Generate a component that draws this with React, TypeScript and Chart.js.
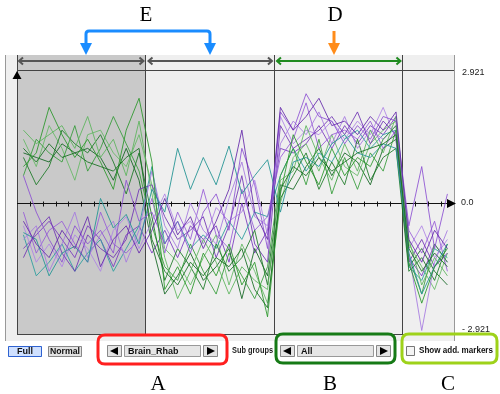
import { useEffect, useRef } from "react";
import { Chart, registerables } from "chart.js";

Chart.register(...registerables);

// sample positions (one per array sample)
const sampleIndex = [0, 1, 2, 3, 4, 5, 6, 7, 8, 9, 10, 11, 12, 13, 14, 15, 16, 17, 18, 19, 20, 21, 22, 23, 24, 25, 26, 27, 28, 29, 30, 31, 32, 33];
// group borders (between samples)
const groupBorders = [9.5, 19.5, 29.5];
const yLimit = 2.921;
const yTickLabels = ["2.921", "0.0", "- 2.921"];
const groupSelection = "Brain_Rhab";
const subGroupSelection = "All";

// green profiles
const g1 = [1.2, 0.9, 1.3, 1.0, 1.1, 0.9, 0.8, 0.7, 1.0, 1.2, -0.8, -1.5, -1.8, -1.3, -1.6, -1.2, -1.4, -1.0, -1.9, -2.3, 0.3, 0.8, 0.6, 1.0, 0.7, 0.9, 1.1, 1.2, 1.3, 1.5, -1.0, -1.5, -1.1, -1.4];
const g2 = [0.8, 1.1, 2.1, 1.5, 1.0, 1.4, 0.9, 0.3, 1.6, 2.3, 0.9, -1.9, -1.4, -2.0, -1.1, -1.6, -0.9, -1.8, -1.3, -2.5, 0.2, 1.5, 0.9, 0.4, 1.2, 0.6, 1.0, 0.8, 1.4, 1.7, -1.3, -2.2, -1.4, -1.0];
const g3 = [1.6, 1.3, 1.5, 1.7, 1.2, 1.9, 1.0, 1.4, 0.6, 1.8, 0.2, -1.2, -2.1, -1.5, -0.8, -1.3, -2.0, -1.4, -1.7, -1.9, 0.5, 0.7, 1.7, 1.0, 0.5, 1.3, 0.7, 1.6, 1.1, 1.9, -0.8, -1.8, -1.2, -1.6];
const g4 = [1.0, 0.4, 0.8, 1.6, 1.3, 1.1, 1.5, 0.9, 0.2, 1.1, -0.3, -1.7, -1.0, -1.4, -1.9, -0.9, -1.5, -1.2, -0.6, -1.8, 0.1, 0.6, 1.1, 0.3, 0.9, 0.4, 1.4, 0.5, 1.0, 1.2, -1.5, -1.2, -1.7, -0.9];
const g5 = [0.6, 1.4, 1.1, 0.9, 1.7, 0.7, 1.2, 1.9, 1.3, 0.7, -0.5, -1.4, -1.7, -0.9, -1.5, -2.0, -1.1, -1.6, -2.1, -1.4, 0.6, 1.2, 0.4, 1.4, 0.2, 1.0, 0.3, 1.1, 0.7, 1.6, -1.2, -2.0, -0.9, -1.3];
const g6 = [1.4, 0.8, 1.7, 1.2, 0.5, 1.5, 1.6, 1.1, 0.8, 1.5, 0.4, -1.0, -1.3, -1.8, -1.2, -0.7, -1.8, -0.9, -1.5, -2.2, 0.0, 1.0, 1.3, 0.7, 1.5, 0.8, 0.6, 1.3, 1.6, 1.8, -0.9, -1.4, -1.9, -1.1];
const g7 = [1.1, 1.0, 0.9, 1.3, 1.1, 1.2, 1.0, 0.5, 1.2, 0.5, -0.9, -2.0, -1.6, -1.1, -1.7, -1.4, -1.0, -2.1, -1.0, -1.6, 0.4, 0.3, 0.8, 1.2, 0.6, 1.1, 0.9, 0.4, 1.2, 1.4, -1.4, -1.0, -1.5, -1.8];
// purple profiles
const p1 = [-0.4, -0.9, -1.2, -0.6, -1.0, -0.3, -1.4, -0.8, -0.5, -1.1, -0.6, 0.1, -0.7, -0.3, -1.0, -0.4, 0.3, 1.6, -0.2, -0.8, 2.1, 1.6, 1.9, 2.3, 1.7, 1.8, 1.5, 1.9, 1.6, 2.0, -0.8, -1.3, -0.6, -1.0];
const p2 = [0.6, -0.2, -0.8, -1.3, -0.5, -0.9, -0.6, -1.1, 0.5, -0.4, -0.2, -0.9, -0.4, -1.1, -0.2, 0.2, -0.6, 1.2, 0.4, -1.0, 2.0, 1.6, 2.4, 1.9, 1.8, 1.3, 1.7, 1.4, 1.9, 1.8, -0.5, 0.8, -1.0, 0.2];
const p3 = [-0.8, -0.5, -1.5, -0.9, -0.2, -1.2, -0.7, -0.4, -1.3, -0.6, 0.7, -0.5, -1.0, 0.0, -0.6, -0.9, 0.1, 0.9, -0.3, -0.5, 1.3, 1.8, 1.5, 2.0, 1.3, 1.9, 1.2, 1.6, 1.4, 1.7, -1.1, -2.8, -1.3, -0.6];
const p4 = [-1.2, -0.6, -0.3, -1.1, -1.5, -0.7, -1.0, -1.2, -0.8, 0.3, 0.4, -0.3, -0.8, -0.6, -0.3, -1.2, -0.5, 0.6, -0.9, -1.3, 1.7, 1.2, 1.4, 1.6, 1.9, 1.5, 2.0, 1.3, 1.8, 1.5, -1.3, -0.8, -1.4, -1.1];
const p5 = [-0.2, -1.1, -0.6, -0.4, -0.9, -1.3, -0.2, -0.9, -1.1, -0.8, 0.1, -1.1, -0.2, -0.8, 0.3, -0.7, -1.0, 0.3, -0.6, -0.3, 1.0, 1.4, 2.2, 1.2, 1.5, 1.6, 1.4, 1.8, 1.2, 1.6, -0.6, -1.1, -0.4, -1.5];
const p6 = [-0.5, -1.3, -0.9, -1.4, -0.7, -1.0, -1.5, -0.6, -0.3, -1.0, -0.4, 0.2, -0.6, -0.4, -0.9, -0.1, -0.4, -0.2, 0.5, -0.7, 1.9, 1.3, 1.6, 1.5, 1.8, 1.4, 1.8, 1.5, 2.1, 1.4, -1.0, -0.5, -1.2, -0.8];
const p7 = [-1.0, -0.7, -0.4, -0.8, -1.2, -0.5, -0.8, -1.4, -0.7, -0.5, -1.1, -0.6, -1.2, -0.5, -0.8, -0.5, -1.3, 0.0, -1.1, -0.6, 1.2, 1.1, 1.3, 1.7, 1.2, 1.7, 1.3, 1.7, 1.5, 1.9, -1.2, -1.6, -0.9, -1.3];
// teal profiles
const t1 = [-0.65, -0.8, -1.6, -1.1, -0.95, -1.3, 0.1, -0.55, -0.25, -0.9, 0.3, -0.2, 1.2, 0.3, 1.0, 0.4, 1.25, 0.2, 0.6, 0.95, -0.2, 0.9, 1.0, 0.8, 1.3, 1.5, 1.1, 1.0, 1.3, 1.2, -1.1, -2.0, -1.4, -0.9];
const t2 = [-0.7, -1.6, -1.3, -0.9, -1.5, -1.1, -0.8, -1.5, -1.0, -0.5, 0.8, -0.9, -0.4, -1.0, -0.7, -1.0, -0.4, -0.8, -0.2, -0.3, 0.6, 1.2, 0.7, 1.1, 0.9, 1.4, 1.6, 1.2, 1.5, 1.6, -1.4, -1.7, -1.0, -1.2];

const profiles = [
  { values: g1, color: "rgba(20,110,30,0.85)" },
  { values: p1, color: "rgba(100,40,170,0.85)" },
  { values: g2, color: "rgba(40,150,40,0.85)" },
  { values: p2, color: "rgba(140,80,210,0.85)" },
  { values: t1, color: "rgba(40,150,150,0.9)" },
  { values: g3, color: "rgba(90,180,90,0.85)" },
  { values: p3, color: "rgba(165,120,225,0.85)" },
  { values: g4, color: "rgba(25,120,35,0.85)" },
  { values: p4, color: "rgba(110,50,180,0.85)" },
  { values: g5, color: "rgba(50,155,55,0.85)" },
  { values: p5, color: "rgba(150,90,215,0.85)" },
  { values: t2, color: "rgba(50,160,160,0.9)" },
  { values: g6, color: "rgba(100,185,100,0.85)" },
  { values: p6, color: "rgba(175,130,230,0.85)" },
  { values: g7, color: "rgba(15,100,30,0.85)" },
  { values: p7, color: "rgba(120,55,190,0.85)" },
];

function doubleArrow(ctx: CanvasRenderingContext2D, x1: number, x2: number, y: number, color: string) {
  ctx.save();
  ctx.strokeStyle = color;
  ctx.lineWidth = 2;
  ctx.beginPath();
  ctx.moveTo(x1 + 1, y);
  ctx.lineTo(x2 - 1, y);
  ctx.moveTo(x1 + 5, y - 3.5);
  ctx.lineTo(x1 + 1, y);
  ctx.lineTo(x1 + 5, y + 3.5);
  ctx.moveTo(x2 - 5, y - 3.5);
  ctx.lineTo(x2 - 1, y);
  ctx.lineTo(x2 - 5, y + 3.5);
  ctx.stroke();
  ctx.restore();
}

function roundRect(ctx: CanvasRenderingContext2D, x: number, y: number, w: number, h: number, r: number) {
  ctx.beginPath();
  ctx.moveTo(x + r, y);
  ctx.lineTo(x + w - r, y);
  ctx.quadraticCurveTo(x + w, y, x + w, y + r);
  ctx.lineTo(x + w, y + h - r);
  ctx.quadraticCurveTo(x + w, y + h, x + w - r, y + h);
  ctx.lineTo(x + r, y + h);
  ctx.quadraticCurveTo(x, y + h, x, y + h - r);
  ctx.lineTo(x, y + r);
  ctx.quadraticCurveTo(x, y, x + r, y);
  ctx.closePath();
}

function button(ctx: CanvasRenderingContext2D, x: number, y: number, w: number, h: number, border: string, fill: string) {
  ctx.fillStyle = fill;
  ctx.fillRect(x, y, w, h);
  ctx.strokeStyle = border;
  ctx.lineWidth = 1;
  ctx.strokeRect(x + 0.5, y + 0.5, w - 1, h - 1);
}

function triangle(ctx: CanvasRenderingContext2D, pts: number[][], color: string) {
  ctx.fillStyle = color;
  ctx.beginPath();
  ctx.moveTo(pts[0][0], pts[0][1]);
  for (let i = 1; i < pts.length; i++) ctx.lineTo(pts[i][0], pts[i][1]);
  ctx.closePath();
  ctx.fill();
}

function spinner(ctx: CanvasRenderingContext2D, x: number, y: number, w: number, label: string) {
  // left arrow button
  button(ctx, x, y, 15, 12, "#888", "#e4e4e4");
  triangle(ctx, [[x + 3, y + 6], [x + 11, y + 2], [x + 11, y + 10]], "#000");
  // field
  const fx = x + 17;
  const fw = w - 34;
  button(ctx, fx, y, fw, 12, "#999", "#e6e6e6");
  ctx.fillStyle = "#111";
  ctx.font = "bold 9px 'Liberation Sans', Arial, sans-serif";
  ctx.textAlign = "left";
  ctx.textBaseline = "middle";
  ctx.fillText(label, fx + 4, y + 6.5);
  // right arrow button
  const rx = x + w - 15;
  button(ctx, rx, y, 15, 12, "#888", "#e4e4e4");
  triangle(ctx, [[rx + 12, y + 6], [rx + 4, y + 2], [rx + 4, y + 10]], "#000");
}

const backgroundPlugin = {
  id: "panelBackground",
  beforeDraw(chart: any) {
    const ctx: CanvasRenderingContext2D = chart.ctx;
    const xs = chart.scales.x;
    const ys = chart.scales.y;
    const left = chart.chartArea.left;
    const right = chart.chartArea.right;
    const top = ys.getPixelForValue(yLimit);
    const bottom = chart.chartArea.bottom - 2;
    const b0 = xs.getPixelForValue(groupBorders[0]);
    ctx.save();
    ctx.fillStyle = "#ffffff";
    ctx.fillRect(0, 0, chart.width, chart.height);
    ctx.fillStyle = "#efefef";
    ctx.fillRect(5, 55, right - 5, 286);
    ctx.fillStyle = "#c9c9c9";
    ctx.fillRect(left, 55, b0 - left, bottom - 55);
    // frame lines
    ctx.strokeStyle = "#444";
    ctx.lineWidth = 1;
    ctx.beginPath();
    ctx.moveTo(left + 0.5, 55);
    ctx.lineTo(left + 0.5, bottom);
    groupBorders.forEach((g) => {
      const px = Math.round(xs.getPixelForValue(g)) + 0.5;
      ctx.moveTo(px, 55);
      ctx.lineTo(px, bottom);
    });
    ctx.moveTo(left, Math.round(top) + 0.5);
    ctx.lineTo(right, Math.round(top) + 0.5);
    ctx.moveTo(left, bottom + 0.5);
    ctx.lineTo(right, bottom + 0.5);
    ctx.stroke();
    ctx.strokeStyle = "#999";
    ctx.beginPath();
    ctx.moveTo(right - 0.5, 55);
    ctx.lineTo(right - 0.5, 341);
    ctx.moveTo(5.5, 55);
    ctx.lineTo(5.5, 341);
    ctx.stroke();
    // small triangle at the top-left
    triangle(ctx, [[left, top + 1], [left - 4.5, top + 9], [left + 4.5, top + 9]], "#000");
    // group range arrows
    const edges = [left, ...groupBorders.map((g) => xs.getPixelForValue(g))];
    doubleArrow(ctx, edges[0] + 1, edges[1] - 1, 61, "#555");
    doubleArrow(ctx, edges[1] + 2, edges[2] - 1, 61, "#555");
    doubleArrow(ctx, edges[2] + 2, edges[3] - 1, 61, "#1f8a1f");
    // zero axis
    const y0 = Math.round(ys.getPixelForValue(0)) + 0.5;
    ctx.strokeStyle = "#111";
    ctx.beginPath();
    ctx.moveTo(left, y0);
    ctx.lineTo(right - 6, y0);
    for (let i = 1; i < sampleIndex.length; i++) {
      const tx = Math.round(xs.getPixelForValue(sampleIndex[i] - 0.5)) + 0.5;
      ctx.moveTo(tx, y0 - 2);
      ctx.lineTo(tx, y0 + 3);
    }
    ctx.stroke();
    triangle(ctx, [[right + 1, y0], [right - 8, y0 - 4.5], [right - 8, y0 + 4.5]], "#000");
    ctx.restore();
  },
  afterDraw(chart: any) {
    const ctx: CanvasRenderingContext2D = chart.ctx;
    const ys = chart.scales.y;
    ctx.save();
    // y labels
    ctx.fillStyle = "#222";
    ctx.font = "9px 'Liberation Sans', Arial, sans-serif";
    ctx.textAlign = "left";
    ctx.textBaseline = "middle";
    ctx.fillText(yTickLabels[0], 462, ys.getPixelForValue(yLimit) + 3);
    ctx.fillText(yTickLabels[1], 461, ys.getPixelForValue(0));
    ctx.fillText(yTickLabels[2], 462, ys.getPixelForValue(-yLimit) - 6);

    // annotation letters
    ctx.fillStyle = "#000";
    ctx.font = "21px 'Liberation Serif', 'DejaVu Serif', serif";
    ctx.textAlign = "center";
    ctx.textBaseline = "alphabetic";
    ctx.fillText("E", 146, 21);
    ctx.fillText("D", 335, 21);
    ctx.fillText("A", 158, 390);
    ctx.fillText("B", 330, 390);
    ctx.fillText("C", 448, 390);

    // blue bracket
    ctx.strokeStyle = "#1a8cff";
    ctx.lineWidth = 3;
    ctx.lineJoin = "round";
    ctx.beginPath();
    ctx.moveTo(86, 45);
    ctx.lineTo(86, 34);
    ctx.quadraticCurveTo(86, 31, 89, 31);
    ctx.lineTo(207, 31);
    ctx.quadraticCurveTo(210, 31, 210, 34);
    ctx.lineTo(210, 45);
    ctx.stroke();
    triangle(ctx, [[80, 43], [92, 43], [86, 55]], "#1a8cff");
    triangle(ctx, [[204, 43], [216, 43], [210, 55]], "#1a8cff");
    // orange arrow
    ctx.strokeStyle = "#ff8c1a";
    ctx.beginPath();
    ctx.moveTo(334, 31);
    ctx.lineTo(334, 45);
    ctx.stroke();
    triangle(ctx, [[328, 43], [340, 43], [334, 55]], "#ff8c1a");

    // bottom controls
    button(ctx, 8, 346, 34, 11, "#2f62d0", "#cfe0ff");
    button(ctx, 48, 346, 34, 11, "#888", "#e2e2e2");
    ctx.fillStyle = "#111";
    ctx.font = "bold 9px 'Liberation Sans', Arial, sans-serif";
    ctx.textAlign = "center";
    ctx.textBaseline = "middle";
    ctx.fillText("Full", 25, 352);
    ctx.fillText("Normal", 65, 352, 30);
    spinner(ctx, 107, 345, 111, groupSelection);
    ctx.textAlign = "left";
    ctx.fillStyle = "#222";
    ctx.fillText("Sub groups", 232, 351, 41);
    spinner(ctx, 280, 345, 111, subGroupSelection);
    // checkbox
    ctx.fillStyle = "#f4f4f4";
    ctx.fillRect(406, 346, 9, 10);
    ctx.strokeStyle = "#777";
    ctx.lineWidth = 1;
    ctx.strokeRect(406.5, 346.5, 8, 9);
    ctx.fillStyle = "#111";
    ctx.textAlign = "left";
    ctx.fillText("Show add. markers", 419, 351, 74);

    // highlight boxes
    ctx.lineWidth = 3;
    ctx.strokeStyle = "#ff1f1f";
    roundRect(ctx, 98, 335, 129, 29, 7);
    ctx.stroke();
    ctx.strokeStyle = "#167a16";
    roundRect(ctx, 276, 334, 119, 29, 7);
    ctx.stroke();
    ctx.strokeStyle = "#9ed21a";
    roundRect(ctx, 402, 334, 95, 29, 7);
    ctx.stroke();
    ctx.restore();
  },
};

export default function App() {
  const canvasRef = useRef<HTMLCanvasElement | null>(null);

  useEffect(() => {
    const canvas = canvasRef.current;
    if (!canvas) return;
    const chart = new Chart(canvas, {
      type: "line",
      data: {
        datasets: profiles.map((p) => ({
          data: p.values.map((v, i) => ({ x: sampleIndex[i], y: v })),
          borderColor: p.color,
          borderWidth: 1,
          pointRadius: 0,
          tension: 0,
          fill: false,
        })),
      },
      options: {
        responsive: false,
        animation: false,
        events: [],
        layout: { padding: { left: 17, right: 45, top: 70, bottom: 58 } },
        scales: {
          x: { type: "linear", min: -0.5, max: 33.59, display: false },
          y: { type: "linear", min: -yLimit, max: yLimit, display: false },
        },
        plugins: { legend: { display: false }, tooltip: { enabled: false } },
      },
      plugins: [backgroundPlugin],
    });
    return () => chart.destroy();
  }, []);

  return (
    <div style={{ position: "fixed", left: 0, top: 0, width: 500, height: 394, background: "#fff" }}>
      <canvas ref={canvasRef} width={500} height={394} style={{ display: "block", width: 500, height: 394 }} />
    </div>
  );
}
